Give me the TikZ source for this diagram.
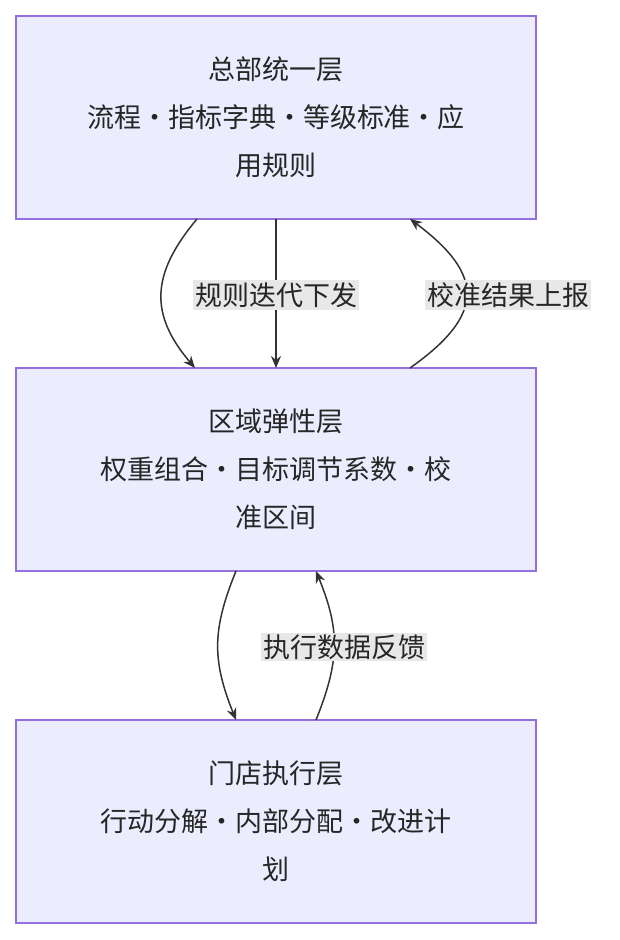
\documentclass[tikz,border=0pt]{standalone}
\usepackage{fontspec}
\setmainfont{Noto Sans CJK SC}
\usetikzlibrary{arrows.meta}
\definecolor{boxfill}{HTML}{ECECFF}
\definecolor{boxline}{HTML}{9370DB}
\definecolor{lblbg}{HTML}{E8E8E8}
\definecolor{edge}{HTML}{333333}
\begin{document}
\begin{tikzpicture}[x=1pt,y=-1pt,
  box/.style={draw=boxline,fill=boxfill,line width=1.2pt,minimum width=520pt,minimum height=203pt,align=center,font=\fontsize{27}{48}\selectfont,text=black!85},
  lbl/.style={fill=lblbg,inner sep=2pt,font=\fontsize{27}{32}\selectfont,text=black!85},
  arr/.style={draw=edge,line width=1.5pt,-{Stealth[length=12pt,width=10pt]}}]
\useasboundingbox (0,0) rectangle (620,940);
\node[box] (a) at (276,117.5) {总部统一层\\流程·指标字典·等级标准·应\\用规则};
\node[box] (b) at (276,469.5) {区域弹性层\\权重组合·目标调节系数·校\\准区间};
\node[box] (c) at (276,821.5) {门店执行层\\行动分解·内部分配·改进计\\划};
\coordinate (a1) at (197,219); \coordinate (b1) at (195,368);
\coordinate (a2) at (276,219); \coordinate (b2) at (276,368);
\coordinate (a3) at (410,219); \coordinate (b3) at (410,368);
\coordinate (b4) at (236,571); \coordinate (c4) at (236,720);
\coordinate (b5) at (316,571); \coordinate (c5) at (316,720);
\draw[arr] (a1) .. controls (150,275) and (150,315) .. (b1);
\draw[arr] (a2) -- (b2);
\draw[arr] (b3) .. controls (485,315) and (485,275) .. (a3);
\draw[arr] (b4) .. controls (212,630) and (212,660) .. (c4);
\draw[arr] (c5) .. controls (340,660) and (340,630) .. (b5);
\node[lbl] (l1) at (276,295) {规则迭代下发};
\node[lbl] (l2) at (508,295) {校准结果上报};
\node[lbl] (l3) at (344,647) {执行数据反馈};
\end{tikzpicture}
\end{document}
